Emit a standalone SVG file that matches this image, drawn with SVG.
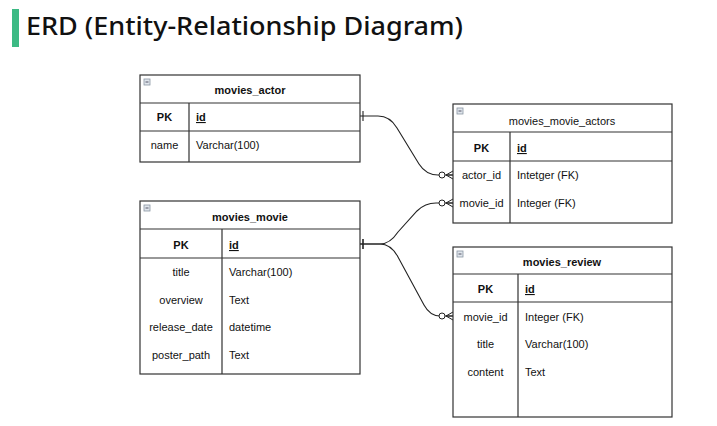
<svg xmlns="http://www.w3.org/2000/svg" width="717" height="426" viewBox="0 0 717 426">
<style>
.box{fill:#fff;stroke:#333;stroke-width:1.2}
.ln{stroke:#333;stroke-width:1.2;fill:none}
.t{font-family:"Liberation Sans",Arial,sans-serif;font-size:11px;fill:#111}
.h{font-weight:bold;text-anchor:middle}
.c{text-anchor:middle}
.b{font-weight:bold}
.u{text-decoration:underline}
.ico{fill:#dfe5ec;stroke:#8a96a3;stroke-width:0.8}
.edge{fill:none;stroke:#222;stroke-width:1.1}
</style>
<defs>
<marker id="many" markerUnits="userSpaceOnUse" markerWidth="16" markerHeight="12" refX="15" refY="6" orient="auto">
<path d="M8,6 L15,2 M8,6 L15,6 M8,6 L15,10" fill="none" stroke="#222" stroke-width="1"/>
<circle cx="4" cy="6" r="3" fill="#fff" stroke="#222" stroke-width="1"/>
</marker>
<marker id="one" markerUnits="userSpaceOnUse" markerWidth="12" markerHeight="12" refX="0" refY="6" orient="auto">
<path d="M3,1 L3,11" stroke="#222" stroke-width="1.1"/>
</marker>
</defs>
<rect width="717" height="426" fill="#fff"/>
<g id="title">
<rect x="12" y="9" width="7" height="38" fill="#3cba84"/>
<text x="26" y="35" font-family="'Noto Sans','Noto Sans CJK KR',sans-serif" font-size="26" font-weight="500" fill="#111" textLength="437" lengthAdjust="spacingAndGlyphs">ERD (Entity-Relationship Diagram)</text>
</g>
<g id="connectors">
<path class="edge" marker-start="url(#one)" marker-end="url(#many)" d="M360,116 H378 Q390,116 397,128 L419,164 Q426,175 438,175 H453"/>
<path class="edge" marker-start="url(#one)" marker-end="url(#many)" d="M360,244 H380 Q390,244 398,232 L417,211 Q425,203 436,203 H453"/>
<path class="edge" marker-start="url(#one)" marker-end="url(#many)" d="M360,244 H380 Q391,244 398,257 L424,305 Q430,316 440,316 H453"/>
</g>
<g id="movies_actor">
<rect class="box" x="140" y="75" width="220" height="87"/>
<path class="ln" d="M140,103 H360 M140,131 H360 M189,103 V162"/>
<rect class="ico" x="144" y="79" width="6" height="6"/><path d="M145.5,82 H148.5" stroke="#556" stroke-width="1"/>
<text class="t h" x="250" y="94">movies_actor</text>
<text class="t c b" x="164.5" y="121">PK</text>
<text class="t b u" x="196" y="121">id</text>
<text class="t c" x="164.5" y="149">name</text>
<text class="t" x="196" y="149">Varchar(100)</text>
</g>
<g id="movies_movie_actors">
<rect class="box" x="453" y="104" width="219" height="119"/>
<path class="ln" d="M453,132 H672 M453,161 H672 M510,132 V223"/>
<rect class="ico" x="457" y="108" width="6" height="6"/><path d="M458.5,111 H461.5" stroke="#556" stroke-width="1"/>
<text class="t c" x="562" y="125">movies_movie_actors</text>
<text class="t c b" x="481.5" y="152">PK</text>
<text class="t b u" x="517" y="152">id</text>
<text class="t c" x="481.5" y="179">actor_id</text>
<text class="t" x="517" y="179">Intetger (FK)</text>
<text class="t c" x="481.5" y="207">movie_id</text>
<text class="t" x="517" y="207">Integer (FK)</text>
</g>
<g id="movies_movie">
<rect class="box" x="140" y="201" width="220" height="173"/>
<path class="ln" d="M140,229 H360 M140,258 H360 M222,229 V374"/>
<rect class="ico" x="144" y="205" width="6" height="6"/><path d="M145.5,208 H148.5" stroke="#556" stroke-width="1"/>
<text class="t h" x="250" y="221">movies_movie</text>
<text class="t c b" x="181" y="249">PK</text>
<text class="t b u" x="229" y="249">id</text>
<text class="t c" x="181" y="276">title</text>
<text class="t" x="229" y="276">Varchar(100)</text>
<text class="t c" x="181" y="304">overview</text>
<text class="t" x="229" y="304">Text</text>
<text class="t c" x="181" y="331">release_date</text>
<text class="t" x="229" y="331">datetime</text>
<text class="t c" x="181" y="359">poster_path</text>
<text class="t" x="229" y="359">Text</text>
</g>
<g id="movies_review">
<rect class="box" x="453" y="247" width="219" height="170"/>
<path class="ln" d="M453,274 H672 M453,302 H672 M518,274 V417"/>
<rect class="ico" x="457" y="251" width="6" height="6"/><path d="M458.5,254 H461.5" stroke="#556" stroke-width="1"/>
<text class="t h" x="562" y="266">movies_review</text>
<text class="t c b" x="485.5" y="293">PK</text>
<text class="t b u" x="525" y="293">id</text>
<text class="t c" x="485.5" y="321">movie_id</text>
<text class="t" x="525" y="321">Integer (FK)</text>
<text class="t c" x="485.5" y="348">title</text>
<text class="t" x="525" y="348">Varchar(100)</text>
<text class="t c" x="485.5" y="376">content</text>
<text class="t" x="525" y="376">Text</text>
</g>
</svg>
